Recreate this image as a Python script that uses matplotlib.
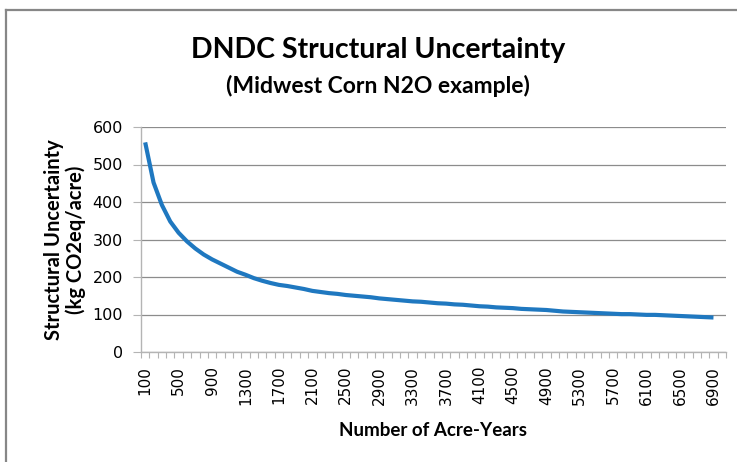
import numpy as np
import matplotlib
matplotlib.use("Agg")
import matplotlib.pyplot as plt
from matplotlib.lines import Line2D
from matplotlib.ticker import FixedLocator, NullFormatter

# Number of acre-years (category axis, 100..7000, last category has no value)
acre_years = list(range(100, 7100, 100))
uncertainty = [
    559, 452, 392, 348, 318, 295, 276, 260, 247, 236,
    225, 214, 206, 197, 190, 184, 179, 176, 172, 168,
    163, 160, 157, 155, 152, 150, 148, 146, 143, 141,
    139, 137, 135, 134, 132, 130, 129, 127, 126, 124,
    122, 121, 119, 118, 117, 115, 114, 113, 112, 110,
    108, 107, 106, 105, 104, 103, 102, 101, 101, 100,
    99, 99, 98, 97, 96, 95, 94, 93, 92,
]
y_ticks = [0, 100, 200, 300, 400, 500, 600]

title = "DNDC Structural Uncertainty"
subtitle = "(Midwest Corn N2O example)"
x_label = "Number of Acre-Years"
y_label = "Structural Uncertainty\n(kg CO2eq/acre)"

line_color = "#1f78c0"
grid_color = "#8c8c8c"
axis_color = "#b4b4b4"

fig = plt.figure(figsize=(7.37, 4.62), dpi=100)
ax = fig.add_axes([141 / 737, 1 - 352 / 462, (726 - 141) / 737, (352 - 127) / 462])

x = np.arange(len(uncertainty))
ax.plot(x, uncertainty, color=line_color, linewidth=3.0, solid_capstyle="butt", zorder=3)

n_cat = len(acre_years)
ax.set_xlim(-0.5, n_cat - 0.5)
ax.set_ylim(0, 600)

# labels every 4th category, tick marks between categories
label_pos = list(range(0, n_cat, 4))
ax.set_xticks(label_pos)
ax.set_xticklabels([str(acre_years[i]) for i in label_pos], rotation=90,
                   fontsize=11, family="DejaVu Sans")
ax.tick_params(axis="x", which="major", length=0, pad=10)
ax.xaxis.set_minor_locator(FixedLocator(np.arange(-0.5, n_cat, 1.0)))
ax.xaxis.set_minor_formatter(NullFormatter())
ax.tick_params(axis="x", which="minor", length=4, width=0.8, color=axis_color, direction="out")

ax.set_yticks(y_ticks)
ax.set_yticklabels([str(v) for v in y_ticks], fontsize=11.5, family="DejaVu Sans")
ax.tick_params(axis="y", length=6, width=0.8, color=axis_color, pad=7)

ax.grid(axis="y", color=grid_color, linewidth=0.9)
ax.set_axisbelow(True)
for side in ["top", "right"]:
    ax.spines[side].set_visible(False)
for side in ["left", "bottom"]:
    ax.spines[side].set_color(axis_color)
    ax.spines[side].set_linewidth(1.0)

fig.text(378 / 737, 1 - 50 / 462, title, ha="center", va="center",
         fontsize=20.5, fontweight="bold", family="Lato")
fig.text(378 / 737, 1 - 86 / 462, subtitle, ha="center", va="center",
         fontsize=16.5, fontweight="bold", family="Lato")
fig.text(65 / 737, 1 - 240 / 462, y_label, ha="center", va="center", rotation=90,
         fontsize=14.5, fontweight="bold", family="Lato", linespacing=1.05)
fig.text(433 / 737, 1 - 431 / 462, x_label, ha="center", va="center",
         fontsize=13.5, fontweight="bold", family="Lato")

# outer chart frame (cropped at right and bottom)
fig.add_artist(Line2D([6 / 737, 6 / 737], [0, 1 - 10 / 462], color="#878787", linewidth=1.6,
                      transform=fig.transFigure))
fig.add_artist(Line2D([6 / 737, 1], [1 - 10 / 462, 1 - 10 / 462], color="#878787", linewidth=1.6,
                      transform=fig.transFigure))

fig.savefig("out.png", dpi=100)
